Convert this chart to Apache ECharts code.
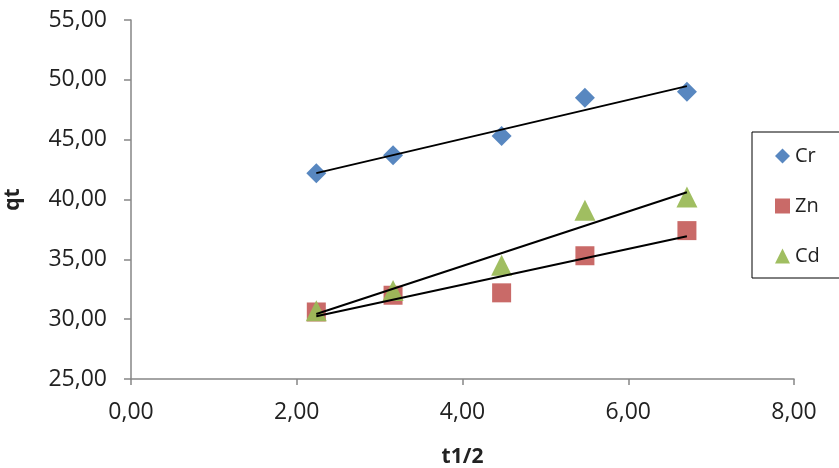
<!DOCTYPE html>
<html>
<head>
<meta charset="utf-8">
<script src="https://cdn.jsdelivr.net/npm/echarts@6/dist/echarts.min.js"></script>
<style>
html,body{margin:0;padding:0;background:#fff;}
#chart{width:839px;height:468px;}
</style>
</head>
<body>
<div id="chart"></div>
<script>
// t1/2 values (same for every metal)
var tHalf = [2.236, 3.162, 4.472, 5.477, 6.708];
var crQt = [42.2, 43.7, 45.3, 48.5, 49.0];
var znQt = [30.6, 32.0, 32.2, 35.3, 37.4];
var cdQt = [30.7, 32.4, 34.5, 39.1, 40.2];
var yTicks = [25, 55, 5];
var xTicks = [0, 8, 2];

function pairs(xs, ys){
    var out = [];
    for(var i=0;i<xs.length;i++) out.push([xs[i], ys[i]]);
    return out;
}
// linear trend line, like Excel's, from first to last x
function trend(xs, ys){
    var n = xs.length, sx=0, sy=0, sxy=0, sxx=0;
    for(var i=0;i<n;i++){ sx+=xs[i]; sy+=ys[i]; sxy+=xs[i]*ys[i]; sxx+=xs[i]*xs[i]; }
    var b = (n*sxy - sx*sy)/(n*sxx - sx*sx);
    var a = (sy - b*sx)/n;
    var x0 = xs[0], x1 = xs[n-1];
    return [[x0, a+b*x0], [x1, a+b*x1]];
}
function fmt(v){ return v.toFixed(2).replace('.', ','); }

var font = 'Open Sans';
var axisGray = '#868686';

var myChart = echarts.init(document.getElementById('chart'));
var option = {
    animation: false,
    backgroundColor: '#fff',
    grid: { left: 131, right: 45, top: 20, bottom: 89, containLabel: false, outerBoundsMode: 'none' },
    legend: {
        data: ['Cr', 'Zn', 'Cd'],
        orient: 'vertical',
        left: 752,
        top: 132,
        itemWidth: 15,
        itemHeight: 15,
        itemGap: 30,
        padding: [14, 22, 12, 23],
        borderColor: '#000',
        borderWidth: 1,
        textStyle: { fontFamily: font, fontSize: 20, color: '#222', lineHeight: 20 }
    },
    xAxis: {
        type: 'value',
        min: xTicks[0], max: xTicks[1], interval: xTicks[2],
        name: 't1/2',
        nameLocation: 'middle',
        nameGap: 68,
        nameTextStyle: { fontFamily: font, fontSize: 21, fontWeight: 'bold', color: '#222' },
        axisLine: { lineStyle: { color: axisGray, width: 1.5 } },
        axisTick: { length: 6, lineStyle: { color: axisGray, width: 1.5 } },
        splitLine: { show: false },
        axisLabel: { formatter: fmt, fontFamily: font, fontSize: 23, color: '#222', margin: 22 }
    },
    yAxis: {
        type: 'value',
        min: yTicks[0], max: yTicks[1], interval: yTicks[2],
        name: 'qt',
        nameLocation: 'middle',
        nameGap: 107,
        nameRotate: 90,
        nameTextStyle: { fontFamily: font, fontSize: 21, fontWeight: 'bold', color: '#222' },
        axisLine: { show: true, lineStyle: { color: axisGray, width: 1.5 } },
        axisTick: { show: true, length: 7, lineStyle: { color: axisGray, width: 1.5 } },
        splitLine: { show: false },
        axisLabel: { formatter: fmt, fontFamily: font, fontSize: 23, color: '#222', margin: 24 }
    },
    series: [
        { name: 'Cr', type: 'scatter', symbol: 'diamond', symbolSize: 20,
          itemStyle: { color: '#4F81BD', opacity: 0.95 }, data: pairs(tHalf, crQt), z: 3 },
        { name: 'Zn', type: 'scatter', symbol: 'rect', symbolSize: 19,
          itemStyle: { color: '#C0504D', opacity: 0.85 }, data: pairs(tHalf, znQt), z: 3 },
        { name: 'Cd', type: 'scatter', symbol: 'triangle', symbolSize: 21,
          itemStyle: { color: '#9BBB59', opacity: 0.95 }, data: pairs(tHalf, cdQt), z: 4 },
        { name: 'Cr trend', type: 'line', data: trend(tHalf, crQt), showSymbol: false,
          lineStyle: { color: '#000', width: 2 }, z: 5 },
        { name: 'Zn trend', type: 'line', data: trend(tHalf, znQt), showSymbol: false,
          lineStyle: { color: '#000', width: 2 }, z: 5 },
        { name: 'Cd trend', type: 'line', data: trend(tHalf, cdQt), showSymbol: false,
          lineStyle: { color: '#000', width: 2 }, z: 5 }
    ]
};
myChart.setOption(option);
</script>
</body>
</html>
